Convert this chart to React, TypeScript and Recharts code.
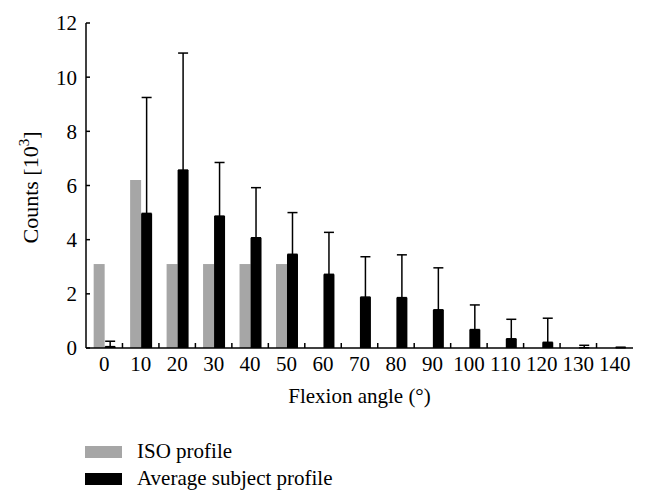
import { Bar, BarChart, ErrorBar, Label, Legend, XAxis, YAxis } from "recharts";

const FONT = "'Liberation Serif', 'DejaVu Serif', serif";

// flexion angle categories (deg)
const angles = ["0", "10", "20", "30", "40", "50", "60", "70", "80", "90", "100", "110", "120", "130", "140"];
// ISO profile counts [10^3]
const isoCounts = [3.1, 6.2, 3.1, 3.1, 3.1, 3.1, 0, 0, 0, 0, 0, 0, 0, 0, 0];
// average subject profile counts [10^3]
const avgCounts = [0.05, 4.97, 6.57, 4.87, 4.07, 3.46, 2.72, 1.88, 1.86, 1.41, 0.68, 0.34, 0.21, 0.01, 0.01];
// upper standard deviation of the subject profile
const avgSd = [0.2, 4.28, 4.32, 1.98, 1.85, 1.54, 1.55, 1.49, 1.58, 1.55, 0.91, 0.72, 0.89, 0.09, 0.02];
const yTicks = [0, 2, 4, 6, 8, 10, 12];

const data = angles.map((a, i) => ({
  angle: a,
  iso: isoCounts[i],
  avg: avgCounts[i],
  err: [0, avgSd[i]],
}));

const GRAY = "#a6a6a6";
const TICK_MARGIN = 12;
const TICK_SIZE = 4;

// category label + small inward tick at the right edge of each group
function AngleTick(props: any) {
  const { x, y, payload, index, width } = props;
  const half = (Number(width) || 547) / angles.length / 2;
  const axisY = y - TICK_MARGIN + TICK_SIZE;
  const last = index === angles.length - 1;
  return (
    <g>
      <text
        x={x}
        y={y}
        dy="0.71em"
        textAnchor="middle"
        fontFamily={FONT}
        fontSize={21}
        fill="#000">
        {payload.value}
      </text>
      {!last && (
        <line
          x1={x + half}
          x2={x + half}
          y1={axisY}
          y2={axisY - TICK_SIZE - 1}
          stroke="#000"
          strokeWidth={1.5}
        />
      )}
    </g>
  );
}

function CountsLabel(props: any) {
  const vb = props.viewBox || {};
  const cx = 38;
  const cy = (vb.y ?? 0) + (vb.height ?? 0) / 2 + 2;
  return (
    <text
      x={cx}
      y={cy}
      transform={`rotate(-90 ${cx} ${cy})`}
      textAnchor="middle"
      fontFamily={FONT}
      fontSize={22}
      fill="#000">
      Counts [10
      <tspan dy={-9} fontSize={15}>3</tspan>
      <tspan dy={9}>]</tspan>
    </text>
  );
}

function LegendBox() {
  const rows = [
    { label: "ISO profile", color: GRAY },
    { label: "Average subject profile", color: "#000" },
  ];
  return (
    <div style={{ height: 52, paddingLeft: 85, fontFamily: FONT, fontSize: 21 }}>
      {rows.map((r) => (
        <div key={r.label} style={{ display: "flex", alignItems: "center", height: 27 }}>
          <span style={{ width: 37, height: 12, background: r.color, marginRight: 15 }} />
          <span style={{ color: "#000" }}>{r.label}</span>
        </div>
      ))}
    </div>
  );
}

export default function App() {
  return (
    <div style={{ position: "absolute", left: 0, top: 0, width: 646, height: 503, background: "#fff" }}>
      <BarChart
        width={646}
        height={503}
        data={data}
        margin={{ top: 23, right: 13, left: 0, bottom: 13 }}
        barCategoryGap="21%"
        barGap={0}>
        <XAxis
          dataKey="angle"
          height={90}
          interval={0}
          axisLine={{ stroke: "#000", strokeWidth: 1.5 }}
          tickLine={false}
          tickSize={-TICK_SIZE}
          tickMargin={TICK_MARGIN}
          tick={<AngleTick />}>
          <Label
            value="Flexion angle (°)"
            position="insideBottom"
            offset={35}
            style={{ fontFamily: FONT, fontSize: 21, fill: "#000" }}
          />
        </XAxis>
        <YAxis
          width={86}
          domain={[0, 12]}
          ticks={yTicks}
          interval={0}
          axisLine={{ stroke: "#000", strokeWidth: 1.5 }}
          tickLine={{ stroke: "#000", strokeWidth: 1.5 }}
          tickSize={-TICK_SIZE}
          tickMargin={13}
          tick={{ fontFamily: FONT, fontSize: 21, fill: "#000" }}>
          <Label content={<CountsLabel />} />
        </YAxis>
        <Legend verticalAlign="bottom" align="left" content={<LegendBox />} />
        <Bar dataKey="iso" name="ISO profile" fill={GRAY} isAnimationActive={false} />
        <Bar dataKey="avg" name="Average subject profile" fill="#000" isAnimationActive={false}>
          <ErrorBar dataKey="err" direction="y" width={5} stroke="#000" strokeWidth={1.5} />
        </Bar>
      </BarChart>
    </div>
  );
}
